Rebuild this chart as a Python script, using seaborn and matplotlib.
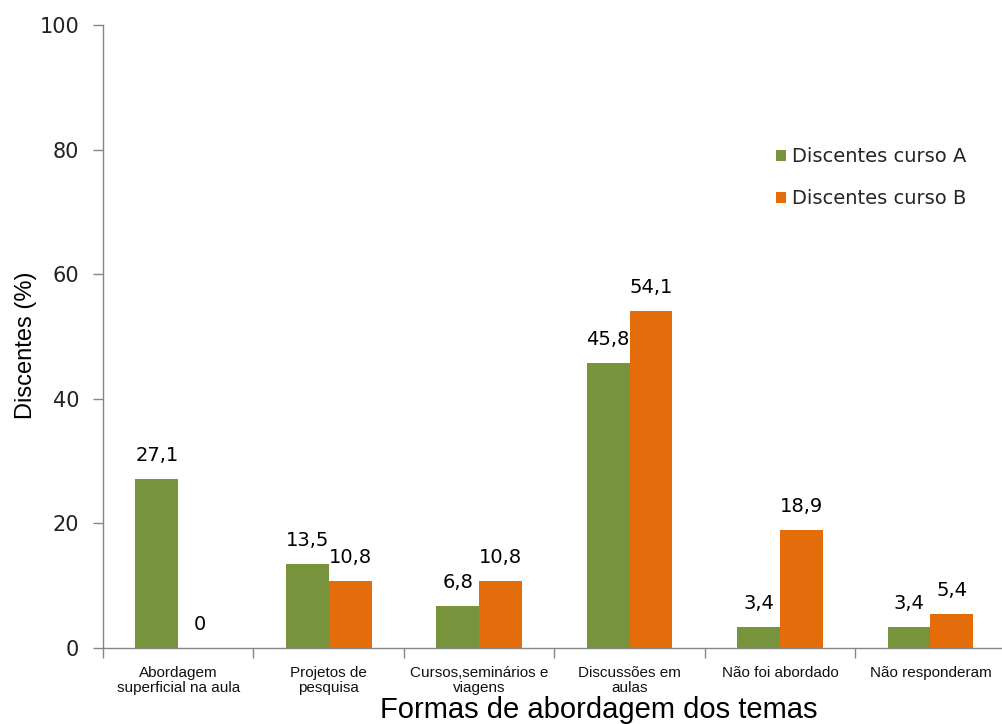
import matplotlib
matplotlib.use("Agg")
import matplotlib.pyplot as plt
import seaborn as sns
import pandas as pd

categories = ["Abordagem\nsuperficial na aula", "Projetos de\npesquisa",
              "Cursos,seminários e\nviagens", "Discussões em\naulas",
              "Não foi abordado", "Não responderam"]
curso_a = [27.1, 13.5, 6.8, 45.8, 3.4, 3.4]
curso_b = [0.0, 10.8, 10.8, 54.1, 18.9, 5.4]
series_names = ["Discentes curso A", "Discentes curso B"]
colors = ["#77933C", "#E46C0A"]

df = pd.DataFrame({
    "cat": categories * 2,
    "val": curso_a + curso_b,
    "serie": [series_names[0]] * len(categories) + [series_names[1]] * len(categories),
})

sns.set_style("white")
plt.rcParams["font.family"] = ["DejaVu Sans"]

fig = plt.figure(figsize=(10.03, 7.24), dpi=100)
ax = fig.add_axes([0.1027, 0.105, 0.9, 0.8605])

sns.barplot(data=df, x="cat", y="val", hue="serie", palette=colors,
            width=0.57, ax=ax, saturation=1, legend=True, linewidth=0)

arial = ["Liberation Sans", "DejaVu Sans"]

for cont in ax.containers:
    labels = [f"{v:.1f}".replace(".", ",") if v != 0 else "0" for v in cont.datavalues]
    ax.bar_label(cont, labels=labels, padding=10, fontsize=14, color="#000000")

ax.set_ylim(0, 100)
ax.set_yticks([0, 20, 40, 60, 80, 100])
ax.set_xlim(-0.5, 5.5)
ax.tick_params(axis="y", labelsize=15, length=7.2, width=1, color="#868686",
               left=True, pad=10, labelcolor="#222222")
ax.tick_params(axis="x", length=0, pad=13)
for lab in ax.get_xticklabels():
    lab.set_fontfamily(arial)
    lab.set_fontsize(11)
    lab.set_linespacing(1.05)
    lab.set_color("#111111")
# category boundary ticks
ax.set_xticks([i + 0.5 for i in range(-1, 6)], minor=True)
ax.tick_params(axis="x", which="minor", length=7, width=1, color="#868686", bottom=True)

for s in ["top", "right"]:
    ax.spines[s].set_visible(False)
for s in ["left", "bottom"]:
    ax.spines[s].set_color("#868686")
    ax.spines[s].set_linewidth(1)

ax.set_ylabel("Discentes (%)", fontsize=17, fontfamily=arial, color="#000000")
ax.yaxis.set_label_coords(-0.0731, 0.486)
ax.set_xlabel("Formas de abordagem dos temas", fontsize=21, fontfamily=arial, color="#000000")
ax.xaxis.set_label_coords(0.549, -0.077)

leg = ax.legend(loc="upper left", bbox_to_anchor=(0.7737, 0.797),
                bbox_transform=fig.transFigure, frameon=False,
                fontsize=14, handlelength=0.5, handleheight=0.5, handletextpad=0.3,
                labelspacing=1.2, borderpad=0, borderaxespad=0)

fig.savefig("out.png", dpi=100)
